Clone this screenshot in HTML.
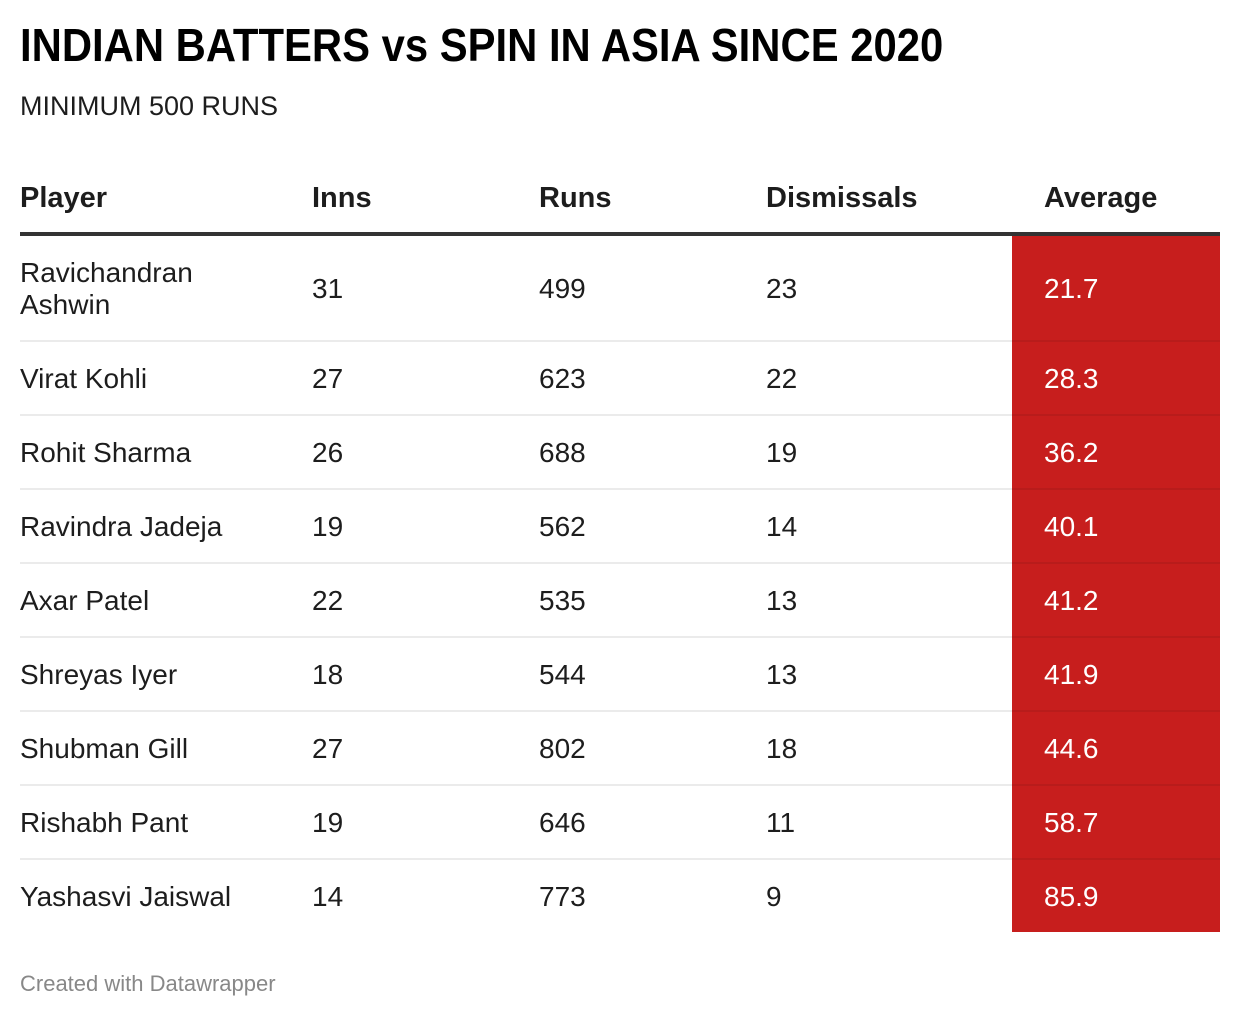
<!DOCTYPE html>
<html>
<head>
<meta charset="utf-8">
<style>
html,body{margin:0;padding:0;background:#fff;}
body{width:1240px;height:1018px;position:relative;overflow:hidden;font-family:"Liberation Sans",Arial,sans-serif;color:#1d1d1d;}
.a{position:absolute;white-space:nowrap;}
.title{left:20px;top:22px;font-size:46px;line-height:46px;font-weight:bold;color:#000;transform:scaleX(0.909);transform-origin:left top;}
.sub{left:20px;top:93px;font-size:27px;line-height:27px;color:#1d1d1d;}
.hd{top:184px;font-size:29px;line-height:28px;font-weight:bold;color:#1d1d1d;}
.rule{left:20px;width:1200px;top:232px;height:4px;background:#333;}
.red{left:1012px;width:208px;top:236px;height:696px;background:#c71e1d;}
.sep{left:20px;width:1200px;height:2px;background:#ebebeb;}
.sepr{left:1012px;width:208px;height:2px;background:#b81c1b;}
.c{font-size:28px;line-height:28px;color:#1d1d1d;}
.w{color:#fff;}
.foot{left:20px;top:973px;font-size:22px;line-height:22px;color:#888;}
</style>
</head>
<body>
<div class="a title">INDIAN BATTERS vs SPIN IN ASIA SINCE 2020</div>
<div class="a sub">MINIMUM 500 RUNS</div>

<div class="a hd" style="left:20px">Player</div>
<div class="a hd" style="left:312px">Inns</div>
<div class="a hd" style="left:539px">Runs</div>
<div class="a hd" style="left:766px">Dismissals</div>
<div class="a hd" style="left:1044px">Average</div>

<div class="a red"></div>
<div class="a rule"></div>

<div class="a sep" style="top:340px"></div><div class="a sepr" style="top:340px"></div>
<div class="a sep" style="top:414px"></div><div class="a sepr" style="top:414px"></div>
<div class="a sep" style="top:488px"></div><div class="a sepr" style="top:488px"></div>
<div class="a sep" style="top:562px"></div><div class="a sepr" style="top:562px"></div>
<div class="a sep" style="top:636px"></div><div class="a sepr" style="top:636px"></div>
<div class="a sep" style="top:710px"></div><div class="a sepr" style="top:710px"></div>
<div class="a sep" style="top:784px"></div><div class="a sepr" style="top:784px"></div>
<div class="a sep" style="top:858px"></div><div class="a sepr" style="top:858px"></div>

<!-- Row 1 -->
<div class="a c" style="left:20px;top:257px;line-height:32px">Ravichandran<br>Ashwin</div>
<div class="a c" style="left:312px;top:275px">31</div>
<div class="a c" style="left:539px;top:275px">499</div>
<div class="a c" style="left:766px;top:275px">23</div>
<div class="a c w" style="left:1044px;top:275px">21.7</div>

<!-- Row 2 -->
<div class="a c" style="left:20px;top:365px">Virat Kohli</div>
<div class="a c" style="left:312px;top:365px">27</div>
<div class="a c" style="left:539px;top:365px">623</div>
<div class="a c" style="left:766px;top:365px">22</div>
<div class="a c w" style="left:1044px;top:365px">28.3</div>

<!-- Row 3 -->
<div class="a c" style="left:20px;top:439px">Rohit Sharma</div>
<div class="a c" style="left:312px;top:439px">26</div>
<div class="a c" style="left:539px;top:439px">688</div>
<div class="a c" style="left:766px;top:439px">19</div>
<div class="a c w" style="left:1044px;top:439px">36.2</div>

<!-- Row 4 -->
<div class="a c" style="left:20px;top:513px">Ravindra Jadeja</div>
<div class="a c" style="left:312px;top:513px">19</div>
<div class="a c" style="left:539px;top:513px">562</div>
<div class="a c" style="left:766px;top:513px">14</div>
<div class="a c w" style="left:1044px;top:513px">40.1</div>

<!-- Row 5 -->
<div class="a c" style="left:20px;top:587px">Axar Patel</div>
<div class="a c" style="left:312px;top:587px">22</div>
<div class="a c" style="left:539px;top:587px">535</div>
<div class="a c" style="left:766px;top:587px">13</div>
<div class="a c w" style="left:1044px;top:587px">41.2</div>

<!-- Row 6 -->
<div class="a c" style="left:20px;top:661px">Shreyas Iyer</div>
<div class="a c" style="left:312px;top:661px">18</div>
<div class="a c" style="left:539px;top:661px">544</div>
<div class="a c" style="left:766px;top:661px">13</div>
<div class="a c w" style="left:1044px;top:661px">41.9</div>

<!-- Row 7 -->
<div class="a c" style="left:20px;top:735px">Shubman Gill</div>
<div class="a c" style="left:312px;top:735px">27</div>
<div class="a c" style="left:539px;top:735px">802</div>
<div class="a c" style="left:766px;top:735px">18</div>
<div class="a c w" style="left:1044px;top:735px">44.6</div>

<!-- Row 8 -->
<div class="a c" style="left:20px;top:809px">Rishabh Pant</div>
<div class="a c" style="left:312px;top:809px">19</div>
<div class="a c" style="left:539px;top:809px">646</div>
<div class="a c" style="left:766px;top:809px">11</div>
<div class="a c w" style="left:1044px;top:809px">58.7</div>

<!-- Row 9 -->
<div class="a c" style="left:20px;top:883px">Yashasvi Jaiswal</div>
<div class="a c" style="left:312px;top:883px">14</div>
<div class="a c" style="left:539px;top:883px">773</div>
<div class="a c" style="left:766px;top:883px">9</div>
<div class="a c w" style="left:1044px;top:883px">85.9</div>

<div class="a foot">Created with Datawrapper</div>
</body>
</html>
